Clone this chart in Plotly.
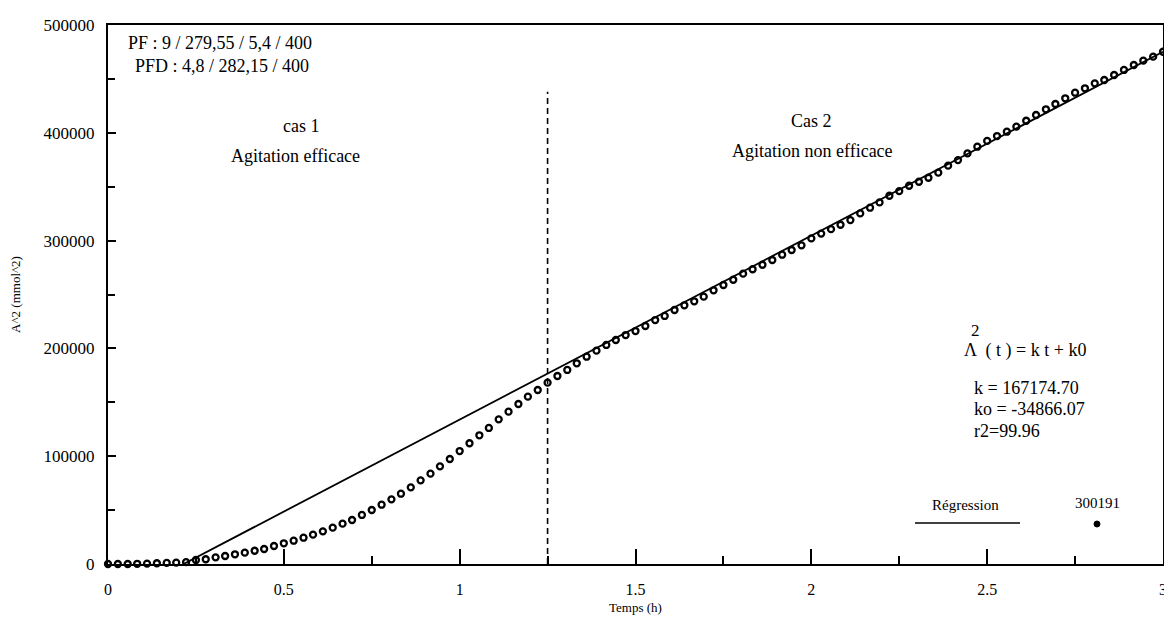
import plotly.graph_objs as go

# measured points (serie 300191), time in h, A^2 in mmol^2
temps = [0.000, 0.028, 0.056, 0.083, 0.111, 0.139, 0.167, 0.194, 0.222, 0.250,
         0.278, 0.306, 0.333, 0.361, 0.389, 0.417, 0.444, 0.472, 0.500, 0.528,
         0.556, 0.583, 0.611, 0.639, 0.667, 0.694, 0.722, 0.750, 0.778, 0.806,
         0.833, 0.861, 0.889, 0.917, 0.944, 0.972, 1.000, 1.028, 1.056, 1.083,
         1.111, 1.139, 1.167, 1.194, 1.222, 1.250, 1.278, 1.306, 1.333, 1.361,
         1.389, 1.417, 1.444, 1.472, 1.500, 1.528, 1.556, 1.583, 1.611, 1.639,
         1.667, 1.694, 1.722, 1.750, 1.778, 1.806, 1.833, 1.861, 1.889, 1.917,
         1.944, 1.972, 2.000, 2.028, 2.056, 2.083, 2.111, 2.139, 2.167, 2.194,
         2.222, 2.250, 2.278, 2.306, 2.333, 2.361, 2.389, 2.417, 2.444, 2.472,
         2.500, 2.528, 2.556, 2.583, 2.611, 2.639, 2.667, 2.694, 2.722, 2.750,
         2.778, 2.806, 2.833, 2.861, 2.889, 2.917, 2.944, 2.972, 3.000]
a2 = [0, 0, 0, 200, 400, 700, 1000, 1300, 1700, 3700,
      4400, 6200, 7400, 9000, 10500, 12300, 13900, 16700, 19200, 21600,
      24400, 27200, 30300, 33700, 37400, 40800, 45500, 50100, 55000, 60000,
      65200, 71100, 77600, 83800, 90600, 97400, 104800, 112000, 119400, 126200,
      134200, 141300, 148400, 155200, 161400, 168200, 174400, 180000, 186200, 192300,
      197900, 203200, 207800, 212400, 216100, 220800, 226300, 230100, 235600, 240000,
      243700, 248000, 253900, 258800, 263700, 269300, 273400, 277600, 282000, 286900,
      291300, 295600, 302000, 306500, 310600, 314700, 319000, 325200, 330500, 335400,
      341600, 345900, 350900, 354600, 358300, 363000, 369500, 374700, 380900, 387100,
      392500, 397000, 401000, 405700, 411200, 416500, 421800, 426700, 432000, 437200,
      441300, 445900, 449000, 453600, 458300, 462900, 466900, 470600, 475200]

# regression line as drawn
reg_t = [0.215, 3.0]
reg_a2 = [0, 475200]

# separation cas 1 / cas 2
split_t = [1.25, 1.25]
split_a2 = [0, 438000]

x_ticks = [0, 0.5, 1, 1.5, 2, 2.5, 3]
x_ticktext = ["0", "0.5", "1", "1.5", "2", "2.5", "3"]
y_ticks = [0, 100000, 200000, 300000, 400000, 500000]
y_ticktext = ["0", "100000", "200000", "300000", "400000", "500000"]

SERIF = "Liberation Serif"

fig = go.Figure()
fig.add_trace(
    go.Scatter(
        x=reg_t, y=reg_a2, mode="lines",
        line=dict(color="black", width=1.8),
        showlegend=False, name="Régression"
    )
)
fig.add_trace(
    go.Scatter(
        x=temps, y=a2, mode="markers",
        marker=dict(symbol="circle-open", size=6, color="black", line=dict(width=2.3)),
        showlegend=False, name="300191", cliponaxis=False
    )
)
fig.add_trace(
    go.Scatter(
        x=split_t, y=split_a2, mode="lines",
        line=dict(color="black", width=1.6, dash="6px,4px"),
        showlegend=False, hoverinfo="skip"
    )
)

def note(text, x, y, size=18, xanchor="center"):
    fig.add_annotation(
        text=text, x=x, y=y, xref="paper", yref="paper",
        xanchor=xanchor, yanchor="middle", showarrow=False,
        font=dict(family=SERIF, size=size, color="black")
    )

# positions in paper coords (plot area on screen: x 108..1163, y 25..564)
def px(x):
    return (x - 108) / 1055

def py(y):
    return (564 - y) / 539

note("PF : 9 / 279,55 / 5,4 / 400", px(126), py(43), 18, "left")
note("PFD : 4,8 / 282,15 / 400", px(133), py(66), 18, "left")
note("cas 1", px(301), py(126), 18)
note("Agitation efficace", px(295), py(156), 18)
note("Cas 2", px(811), py(121), 18)
note("Agitation non efficace", px(812), py(151), 18)
note("2", px(975), py(330), 17)
note("Λ  ( t ) = k t + k0", px(962), py(350), 18, "left")
note("k = 167174.70", px(972), py(388), 18, "left")
note("ko = -34866.07", px(972), py(409), 18, "left")
note("r2=99.96", px(972), py(431), 18, "left")
note("Régression", px(965), py(505), 15)
note("300191", px(1097), py(503), 15)

fig.add_shape(
    type="line", xref="paper", yref="paper",
    x0=px(915), x1=px(1020), y0=py(523), y1=py(523),
    line=dict(color="black", width=1.5)
)
fig.add_shape(
    type="circle", xref="paper", yref="paper",
    x0=px(1094), x1=px(1100), y0=py(521), y1=py(527),
    fillcolor="black", line=dict(color="black", width=1)
)

fig.update_xaxes(
    range=[0, 3], automargin=False,
    tickvals=x_ticks, ticktext=x_ticktext,
    ticks="inside", ticklen=15, tickwidth=1.5, tickcolor="black",
    minor=dict(dtick=0.25, ticks="inside", ticklen=8, tickwidth=1.5, tickcolor="black"),
    showline=True, linecolor="black", linewidth=2, mirror=True,
    showgrid=False, zeroline=False,
    tickfont=dict(family=SERIF, size=16, color="black"),
    ticklabelstandoff=10,
    title=dict(text="Temps (h)", font=dict(family=SERIF, size=13, color="black"), standoff=6)
)
fig.update_yaxes(
    range=[0, 500000], automargin=False,
    tickvals=y_ticks, ticktext=y_ticktext,
    ticks="inside", ticklen=8, tickwidth=1.5, tickcolor="black",
    minor=dict(dtick=50000, ticks="inside", ticklen=7, tickwidth=1.5, tickcolor="black"),
    showline=True, linecolor="black", linewidth=2, mirror=True,
    showgrid=False, zeroline=False,
    tickfont=dict(family=SERIF, size=17, color="black"),
    ticklabelstandoff=8,
    title=dict(text="A^2 (mmol^2)", font=dict(family=SERIF, size=13, color="black"), standoff=22)
)
# page has an 8px body margin, so the figure is drawn 8px smaller and shifted
fig.update_layout(
    width=1164, height=613,
    margin=dict(l=100, r=9, t=17, b=57),
    paper_bgcolor="white", plot_bgcolor="white",
    showlegend=False
)

fig.write_html("out.html")
